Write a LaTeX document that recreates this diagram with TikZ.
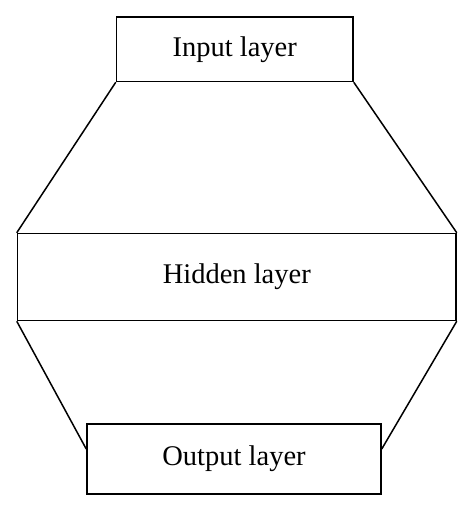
\documentclass[tikz,border=0pt]{standalone}
\usepackage{fontspec}
\setmainfont{Liberation Serif}
\usetikzlibrary{calc}

\begin{document}
\begin{tikzpicture}[
    x=1pt, y=1pt,
    every node/.style={font=\fontsize{28.5}{32}\selectfont},
    line width=1.5pt
  ]

% Fix the page size to the reference (474 x 511)
\useasboundingbox (0, 0) rectangle (474, -511);

% Common style for the three layer boxes
\tikzset{layer_box/.style={
    draw,
    inner sep=0pt,
    anchor=center
  }
}

% The three layers, placed at their centres
\node[layer_box, minimum width=236.5, minimum height=64.5] (input) at (234.75, -49.25) {Input layer};
\node[layer_box, minimum width=438.5, minimum height=87] (hidden) at (236.75, -277) {Hidden layer};
\node[layer_box, minimum width=294, minimum height=70] (output) at (234, -459) {Output layer};

% Points on the sides of the output box where the lower lines end
\coordinate (outL) at ($(output.north west)!0.36!(output.south west)$);
\coordinate (outR) at ($(output.north east)!0.36!(output.south east)$);

% Slanted lines joining the layers
\draw (input.south west) -- (hidden.north west);
\draw (input.south east) -- (hidden.north east);
\draw (hidden.south west) -- (outL);
\draw (hidden.south east) -- (outR);

\end{tikzpicture}
\end{document}
